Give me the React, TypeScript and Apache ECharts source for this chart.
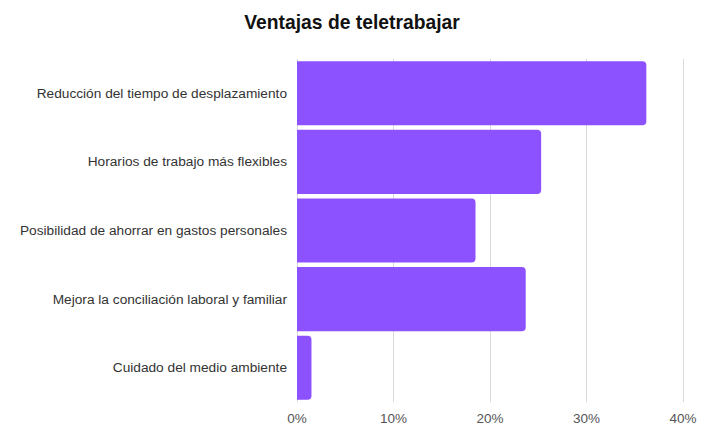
import React, { useEffect, useRef } from "react";
import * as echarts from "echarts";

const title = "Ventajas de teletrabajar";
const categories = [
  "Reducción del tiempo de desplazamiento",
  "Horarios de trabajo más flexibles",
  "Posibilidad de ahorrar en gastos personales",
  "Mejora la conciliación laboral y familiar",
  "Cuidado del medio ambiente",
];
const values = [36.2, 25.3, 18.5, 23.7, 1.5];
const ticks = [0, 10, 20, 30, 40];

export default function App() {
  const ref = useRef<HTMLDivElement>(null);
  useEffect(() => {
    if (!ref.current) return;
    const chart = echarts.init(ref.current, null, { renderer: "svg" });
    chart.setOption({
      animation: false,
      backgroundColor: "#ffffff",
      title: {
        text: title,
        left: 339,
        top: 0,
        textAlign: "center",
        textStyle: {
          fontFamily: "Liberation Sans, Arial, sans-serif",
          fontSize: 19.3,
          fontWeight: "bold",
          color: "#111111",
        },
      },
      grid: { left: 289, right: 26, top: 51, bottom: 33, containLabel: false },
      xAxis: {
        type: "value",
        min: ticks[0],
        max: ticks[ticks.length - 1],
        interval: 10,
        axisLine: { show: false },
        axisTick: { show: false },
        splitLine: { show: true, lineStyle: { color: "#d9d9d9", width: 1 } },
        axisLabel: {
          formatter: (v: number) => `${v}%`,
          color: "#555555",
          fontSize: 13.5,
          margin: 9,
          fontFamily: "Liberation Sans, Arial, sans-serif",
        },
      },
      yAxis: {
        type: "category",
        data: categories,
        inverse: true,
        axisLine: { show: false },
        axisTick: { show: false },
        axisLabel: {
          color: "#333333",
          fontSize: 13.7,
          margin: 10,
          fontFamily: "Liberation Sans, Arial, sans-serif",
        },
      },
      series: [
        {
          type: "bar",
          data: values,
          barCategoryGap: "6.5%",
          itemStyle: { color: "#8c52ff", borderRadius: [0, 4, 4, 0] },
        },
      ],
    });
    return () => chart.dispose();
  }, []);
  return <div ref={ref} style={{ width: 701, height: 427 }} />;
}
